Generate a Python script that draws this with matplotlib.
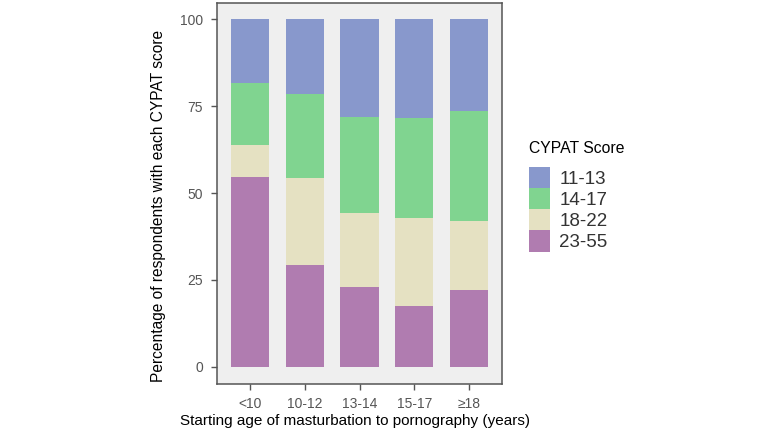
import matplotlib
matplotlib.use("Agg")
import matplotlib.pyplot as plt
from matplotlib.patches import Patch
import numpy as np

plt.rcParams['font.family'] = ['Liberation Sans', 'DejaVu Sans']

categories = ["<10", "10-12", "13-14", "15-17", "≥18"]
series_names = ["11-13", "14-17", "18-22", "23-55"]
s_23_55 = [54.7, 29.3, 22.9, 17.5, 22.1]
s_18_22 = [9.1, 25.1, 21.5, 25.3, 19.8]
s_14_17 = [18.0, 24.0, 27.6, 28.8, 31.7]
s_11_13 = [18.2, 21.6, 28.0, 28.4, 26.4]
colors = {"11-13": "#8898cc", "14-17": "#80d490", "18-22": "#e5e1c2", "23-55": "#b07cb0"}

fig = plt.figure(figsize=(7.7, 4.41), dpi=100)
ax = fig.add_axes([217/770, 1-384/441, 285/770, 381/441])
ax.set_facecolor("#efefef")

x = np.arange(len(categories))
bottom = np.zeros(len(categories))
stack = [("23-55", s_23_55), ("18-22", s_18_22), ("14-17", s_14_17), ("11-13", s_11_13)]
for name, vals in stack:
    ax.bar(x, vals, bottom=bottom, width=0.7, color=colors[name], edgecolor="none")
    bottom += np.array(vals)

ax.set_xlim(-0.6, 4.6)
ax.set_ylim(-5, 104.75)
ax.set_xticks(x)
ax.set_xticklabels(categories)
ax.set_yticks([0, 25, 50, 75, 100])
for sp in ax.spines.values():
    sp.set_color("#555555")
    sp.set_linewidth(1.1)
ax.tick_params(axis='both', colors="#555555", labelcolor="#555555", labelsize=10, length=4, width=1)
ax.tick_params(axis='x', pad=5)
ax.tick_params(axis='y', pad=6)
ax.set_xlabel("Starting age of masturbation to pornography (years)", fontsize=11, color="black")
ax.set_ylabel("Percentage of respondents with each CYPAT score", fontsize=11.2, color="black")
ax.xaxis.set_label_coords(0.484, -0.078)
ax.yaxis.set_label_coords(-0.179, 0.467)

handles = [Patch(facecolor=colors[n], edgecolor="none") for n in series_names]
leg = fig.legend(handles, series_names, title="CYPAT Score", loc="upper left",
                 bbox_to_anchor=(512/770, 1-124/441), frameon=False, fontsize=13.5,
                 title_fontsize=11.3, labelspacing=0.0, handlelength=1.12, handleheight=1.36,
                 handletextpad=0.5, alignment="left")
leg._legend_box.sep = 8
for t in leg.get_texts():
    t.set_color("#333333")

fig.savefig("out.png", dpi=100)
